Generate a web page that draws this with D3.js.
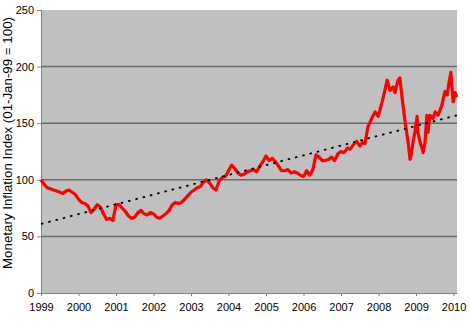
<!DOCTYPE html>
<html>
<head>
<meta charset="utf-8">
<script src="https://cdn.jsdelivr.net/npm/d3@7"></script>
<style>
  body { margin: 0; background: #fff; }
  text { font-family: "Liberation Sans", Arial, sans-serif; fill: #000; }
</style>
</head>
<body>
<svg id="canvas"></svg>
<script>
// monthly readings, Jan..Dec
let monthlyYears = [1999, 2000, 2001, 2002, 2003, 2004, 2005, 2006];
let monthlyValues = [
  [100, 96, 93, 92, 91, 90, 89, 88, 90, 91, 89, 87],
  [83, 80, 79, 77, 71, 74, 78, 76, 70, 65, 66, 64],
  [78, 78, 75, 72, 68, 66, 67, 71, 73, 70, 69, 71],
  [70, 67, 66, 68, 70, 73, 78, 80, 79, 80, 83, 86],
  [89, 91, 93, 94, 98, 100, 97, 93, 91, 99, 102, 103],
  [108, 113, 110, 106, 104, 105, 107, 108, 109, 107, 112, 116],
  [121, 117, 119, 116, 112, 108, 108, 109, 106, 107, 106, 104],
  [103, 108, 104, 109, 122, 120, 117, 117, 118, 120, 117, 123]
];
// 2007 onward read more densely (decimal years)
let lateTimes = [2007.0, 2007.08, 2007.17, 2007.25, 2007.33, 2007.42, 2007.5, 2007.58,
  2007.64, 2007.72, 2007.83, 2007.91, 2007.99, 2008.09, 2008.17, 2008.23, 2008.31,
  2008.39, 2008.44, 2008.52, 2008.57, 2008.63, 2008.71, 2008.79, 2008.84, 2008.87,
  2008.92, 2008.97, 2009.03, 2009.05, 2009.11, 2009.16, 2009.19, 2009.24, 2009.29,
  2009.32, 2009.37, 2009.45, 2009.51, 2009.59, 2009.69, 2009.77, 2009.83, 2009.88,
  2009.93, 2009.96, 2009.99, 2010.04, 2010.09];
let lateValues = [125, 124, 128, 127, 131, 134, 130, 133,
  132, 147, 155, 160, 156, 168, 179, 188, 179,
  182, 177, 188, 190, 172, 151, 133, 118, 122,
  133, 142, 156, 142, 133, 128, 124, 133, 157,
  142, 157, 154, 160, 157, 166, 178, 175, 186,
  195, 181, 169, 177, 173];

let trendYears = [1999, 2010.09];
let trendValues = [61, 157];

let yTicks = [0, 50, 100, 150, 200, 250];
let xTicks = d3.range(1999, 2011);
let yTitle = "Monetary Inflation Index (01-Jan-99 = 100)";

let series = [];
monthlyYears.forEach((yr, i) => {
  monthlyValues[i].forEach((v, m) => series.push({ t: yr + m / 12, v: v }));
});
lateTimes.forEach((t, i) => series.push({ t: t, v: lateValues[i] }));

let trend = trendYears.map((t, i) => ({ t: t, v: trendValues[i] }));

let canvas = d3.select("#canvas").attr("width", 470).attr("height", 330);

let plotLeft = 41, plotRight = 457, plotTop = 10, plotBottom = 293;

let x = d3.scaleLinear().domain([1999, 2010.093]).range([plotLeft, plotRight]);
let y = d3.scaleLinear().domain([0, 250]).range([plotBottom, plotTop]);

// plot area
canvas.append("rect")
  .attr("x", plotLeft).attr("y", plotTop)
  .attr("width", plotRight - plotLeft).attr("height", plotBottom - plotTop)
  .attr("fill", "#c0c0c0");

// gridlines
canvas.append("g")
  .selectAll("line")
  .data(yTicks.filter((d) => d > 0 && d < 250))
  .enter()
  .append("line")
  .attr("x1", plotLeft).attr("x2", plotRight)
  .attr("y1", (d) => y(d)).attr("y2", (d) => y(d))
  .attr("stroke", "#6a6a6a")
  .attr("stroke-width", 1.5);

// axes
let yAxis = d3.axisLeft(y).tickValues(yTicks).tickSize(4).tickPadding(3);
let gy = canvas.append("g").attr("transform", "translate(" + plotLeft + ",0)").call(yAxis);
gy.select(".domain").attr("stroke", "#808080");
gy.selectAll(".tick line").attr("stroke", "#808080");
gy.selectAll("text").style("font-size", "11px");

let xAxis = d3.axisBottom(x).tickValues(xTicks).tickFormat(d3.format("d"))
  .tickSize(3).tickPadding(7).tickSizeOuter(0);
let gx = canvas.append("g").attr("transform", "translate(0," + plotBottom + ")").call(xAxis);
gx.select(".domain").attr("stroke", "#808080");
gx.selectAll(".tick line").attr("stroke", "#808080");
gx.selectAll("text").style("font-size", "11px");

let line = d3.line().x((d) => x(d.t)).y((d) => y(d.v));

// index series
canvas.append("path")
  .datum(series)
  .attr("d", line)
  .attr("fill", "none")
  .attr("stroke", "#ff0000")
  .attr("stroke-width", 3.2)
  .attr("stroke-linejoin", "round");

// trend line
canvas.append("path")
  .datum(trend)
  .attr("d", line)
  .attr("fill", "none")
  .attr("stroke", "#000")
  .attr("stroke-width", 1.8)
  .attr("stroke-dasharray", "2.5,5");

canvas.append("text")
  .attr("transform", "translate(12,143) rotate(-90)")
  .attr("text-anchor", "middle")
  .attr("textLength", 252)
  .attr("lengthAdjust", "spacingAndGlyphs")
  .style("font-size", "12px")
  .text(yTitle);
</script>
</body>
</html>
